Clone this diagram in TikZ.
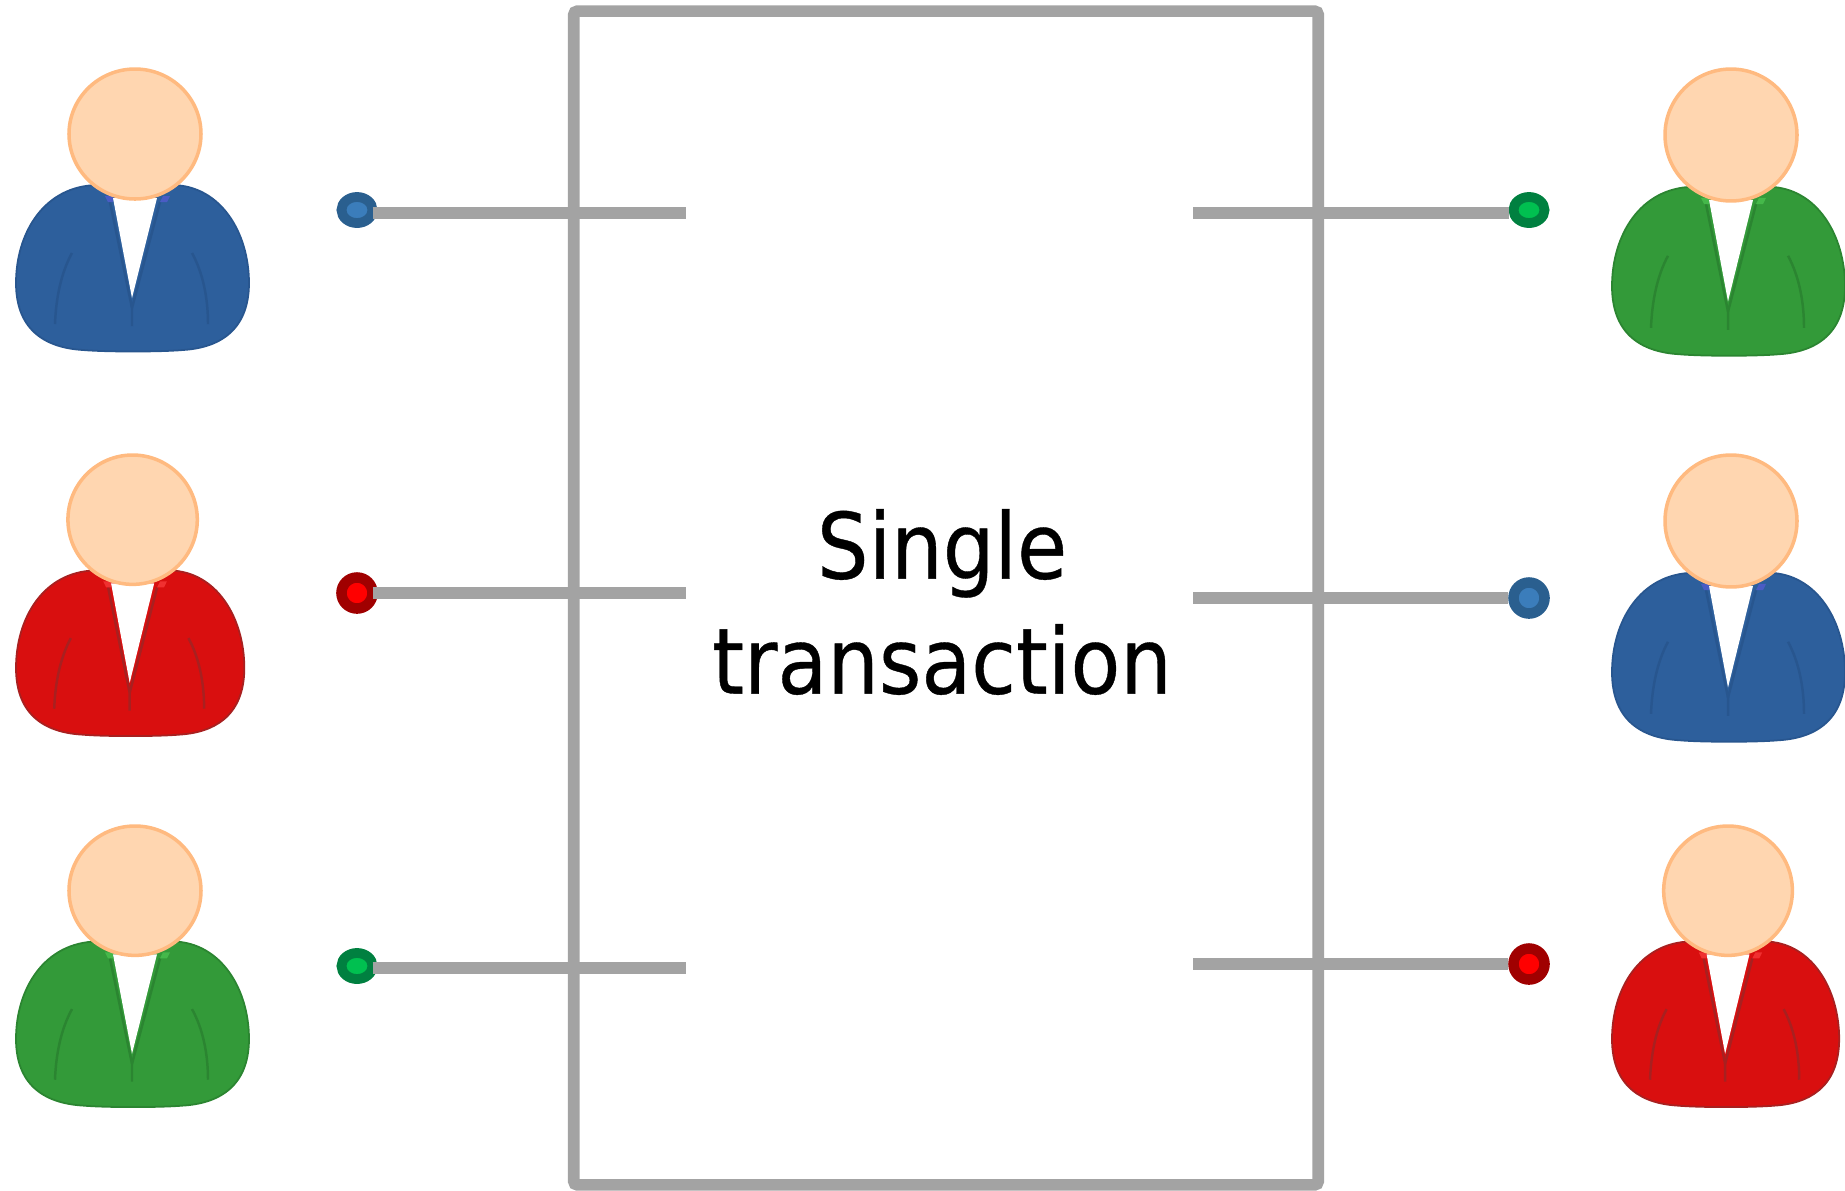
\documentclass[tikz,border=0pt]{standalone}
\usepackage{fontspec}
\usepackage{tikz}
\usetikzlibrary{shapes.geometric}
\setmainfont[FakeStretch=0.89,FakeBold=0.4]{DejaVu Sans}
\definecolor{wiregray}{HTML}{A3A3A3}
\definecolor{headfill}{HTML}{FFD6B0}
\definecolor{headedge}{HTML}{FFBA80}
\definecolor{bluesuit}{HTML}{2D5F9C}
\definecolor{bluedark}{HTML}{28568F}
\definecolor{bluecollar}{HTML}{4A5CC4}
\definecolor{bluering}{HTML}{2A5F8F}
\definecolor{bluecore}{HTML}{3B7DBB}
\definecolor{redsuit}{HTML}{D90F0F}
\definecolor{reddark}{HTML}{A82020}
\definecolor{redcollar}{HTML}{F03030}
\definecolor{redring}{HTML}{A00000}
\definecolor{redcore}{HTML}{FF0000}
\definecolor{greensuit}{HTML}{339A39}
\definecolor{greendark}{HTML}{2B8531}
\definecolor{greencollar}{HTML}{45B84A}
\definecolor{greenring}{HTML}{008040}
\definecolor{greencore}{HTML}{00C050}
\tikzset{
  wire/.style={draw=wiregray,line width=3.3pt},
  txnbox/.style={draw=wiregray,line width=3.3pt,rounded corners=1pt,minimum width=7.44cm,minimum height=11.73cm},
  txnlabel/.style={align=center,font=\fontsize{26}{32.7}\selectfont},
  dotwide/.style={ellipse,line width=2.8pt,minimum width=0.31cm,minimum height=0.26cm,inner sep=0pt},
  dotround/.style={circle,line width=3pt,minimum size=0.31cm,inner sep=0pt},
}
% #1 #2 top left corner, #3 #4 xscale yscale, #5 colour name
\newcommand{\person}[5]{
\begin{scope}[shift={(#1,#2)},xscale=#3,yscale=#4]
\filldraw[fill=#5suit,draw=#5dark,line width=0.5pt] (81,117) .. controls (28,118) and (0,165) .. (0,215) .. controls (0,265) and (33,280) .. (67,282) .. controls (90,284) and (144,284) .. (167,282) .. controls (200,280) and (233,265) .. (233,215) .. controls (233,165) and (205,118) .. (157,117) -- cycle;
\draw[#5dark,line width=0.7pt] (56,185) .. controls (45,205) and (40,230) .. (39,256);
\draw[#5dark,line width=0.7pt] (176,185) .. controls (187,205) and (192,230) .. (192,256);
\draw[#5dark,line width=0.7pt] (94,134) -- (116,240) -- (116,258);
\draw[#5dark,line width=0.7pt] (144,134) -- (116,240);
\fill[#5collar] (89,128) -- (97,128) -- (97,134) -- (92,134) -- cycle;
\fill[#5collar] (147,128) -- (154,128) -- (151,134) -- (144,134) -- cycle;
\fill[white] (97,130) -- (141,130) -- (116,230) -- cycle;
\filldraw[fill=headfill,draw=headedge,line width=1pt] (119,66) ellipse (66 and 65);
\end{scope}
}
\begin{document}
\begin{tikzpicture}[x=0.01cm,y=-0.01cm]
\useasboundingbox (0,0) rectangle (1845,1190);
\person{16}{68}{1}{1}{blue}
\person{16}{454}{0.98}{0.995}{red}
\person{16}{825}{1}{0.995}{green}
\person{1612}{68}{1}{1.015}{green}
\person{1612}{454}{1}{1.015}{blue}
\person{1612}{825}{0.975}{0.995}{red}
\node[txnbox] (txn) at (946,598) {};
\node[txnlabel] (txnlabel) at (942,602) {Single\\transaction};
\node[dotwide,draw=bluering,fill=bluecore] (dotleftA) at (357,210) {};
\node[dotround,draw=redring,fill=redcore] (dotleftB) at (357,593) {};
\node[dotwide,draw=greenring,fill=greencore] (dotleftC) at (357,966) {};
\node[dotwide,draw=greenring,fill=greencore] (dotrightA) at (1529,210) {};
\node[dotround,draw=bluering,fill=bluecore] (dotrightB) at (1529,598) {};
\node[dotround,draw=redring,fill=redcore] (dotrightC) at (1529,964) {};
\coordinate (endleftA) at (686,213);
\coordinate (endleftB) at (686,593);
\coordinate (endleftC) at (686,968);
\coordinate (endrightA) at (1193,213);
\coordinate (endrightB) at (1193,598);
\coordinate (endrightC) at (1193,964);
\draw[wire,shorten <=-1.4pt] (dotleftA.east |- endleftA) -- (endleftA);
\draw[wire,shorten <=-1.4pt] (dotleftB.east) -- (endleftB);
\draw[wire,shorten <=-1.4pt] (dotleftC.east |- endleftC) -- (endleftC);
\draw[wire] (endrightA) -- (dotrightA.west |- endrightA);
\draw[wire] (endrightB) -- (dotrightB.west);
\draw[wire] (endrightC) -- (dotrightC.west);
\end{tikzpicture}
\end{document}
